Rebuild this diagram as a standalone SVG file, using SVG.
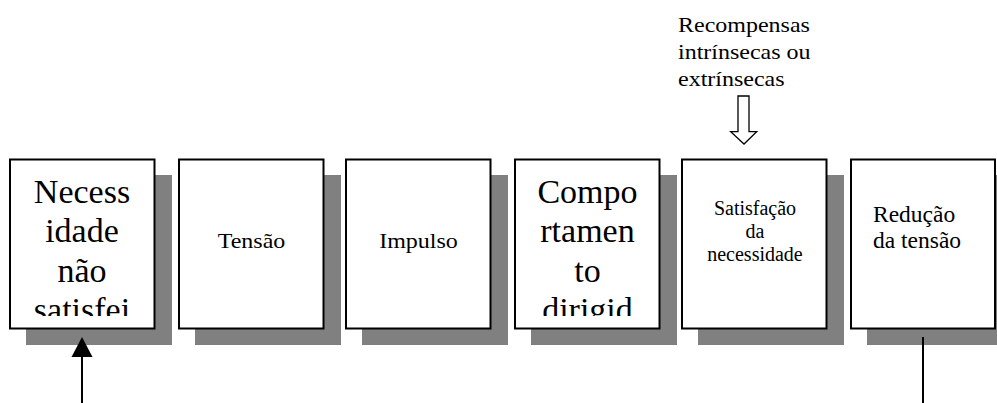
<svg xmlns="http://www.w3.org/2000/svg" width="997" height="403" viewBox="0 0 997 403">
<style>
.shadow{fill:#808080}
.box{fill:#fff;stroke:#000;stroke-width:2}
.t{fill:#000}
.big{font-size:34px;text-anchor:middle}
.mid{text-anchor:middle}
.line{stroke:#000;stroke-width:2;fill:none}
</style>
<defs>
<clipPath id="c1"><rect x="11" y="160" width="142" height="156"/></clipPath>
<clipPath id="c4"><rect x="516" y="160" width="142" height="156"/></clipPath>
</defs>
<rect width="997" height="403" fill="#fff"/>
<g font-family="Liberation Serif, Times New Roman, DejaVu Serif, serif">
<g id="node1">
<rect class="shadow" x="26" y="175" width="146" height="170"/>
<rect class="box" x="10" y="159.5" width="144.5" height="169"/>
<g clip-path="url(#c1)">
<text class="t big" x="82" y="202.7">Necess</text>
<text class="t big" x="82" y="242.2">idade</text>
<text class="t big" x="82" y="281.7">não</text>
<text class="t big" x="82" y="321.2">satisfei</text>
</g>
</g>
<g id="node2">
<rect class="shadow" x="195" y="175" width="146" height="170"/>
<rect class="box" x="179" y="159.5" width="144.5" height="169"/>
<text class="t mid" transform="translate(251.5,248.3) scale(1,0.87)" font-size="24">Tensão</text>
</g>
<g id="node3">
<rect class="shadow" x="362" y="175" width="146" height="170"/>
<rect class="box" x="346" y="159.5" width="144.5" height="169"/>
<text class="t mid" transform="translate(418.5,248.3) scale(1,0.87)" font-size="24">Impulso</text>
</g>
<g id="node4">
<rect class="shadow" x="531" y="175" width="146" height="170"/>
<rect class="box" x="515" y="159.5" width="144.5" height="169"/>
<g clip-path="url(#c4)">
<text class="t big" x="587.5" y="202.7">Compo</text>
<text class="t big" x="587.5" y="242.2">rtamen</text>
<text class="t big" x="587.5" y="281.7">to</text>
<text class="t big" x="587.5" y="321.2">dirigid</text>
</g>
</g>
<g id="node5">
<rect class="shadow" x="698" y="175" width="146" height="170"/>
<rect class="box" x="682" y="159.5" width="144.5" height="169"/>
<text class="t mid" x="755" y="215" font-size="20">Satisfação</text>
<text class="t mid" x="755" y="238" font-size="20">da</text>
<text class="t mid" x="755" y="261" font-size="20">necessidade</text>
</g>
<g id="node6">
<rect class="shadow" x="867" y="175" width="146" height="170"/>
<rect class="box" x="851" y="159.5" width="144" height="169"/>
<text class="t" x="873" y="221.7" font-size="23.5">Redução</text>
<text class="t" x="873" y="247.7" font-size="23.5">da tensão</text>
</g>
<g id="label">
<text class="t" transform="translate(678,32) scale(1,0.87)" font-size="24">Recompensas</text>
<text class="t" transform="translate(678,59) scale(1,0.87)" font-size="24">intrínsecas ou</text>
<text class="t" transform="translate(678,86) scale(1,0.87)" font-size="24">extrínsecas</text>
</g>
</g>
<g id="connectors">
<path d="M738,96 H749 V131.7 H756.7 L744,144 L730.7,131.7 H738 Z" fill="#fff" stroke="#000" stroke-width="1.3"/>
<line class="line" x1="82" y1="356" x2="82" y2="403"/>
<path d="M82,337 L92.5,357 L71.5,357 Z" fill="#000"/>
<line class="line" x1="923" y1="337" x2="923" y2="403"/>
</g>
</svg>
